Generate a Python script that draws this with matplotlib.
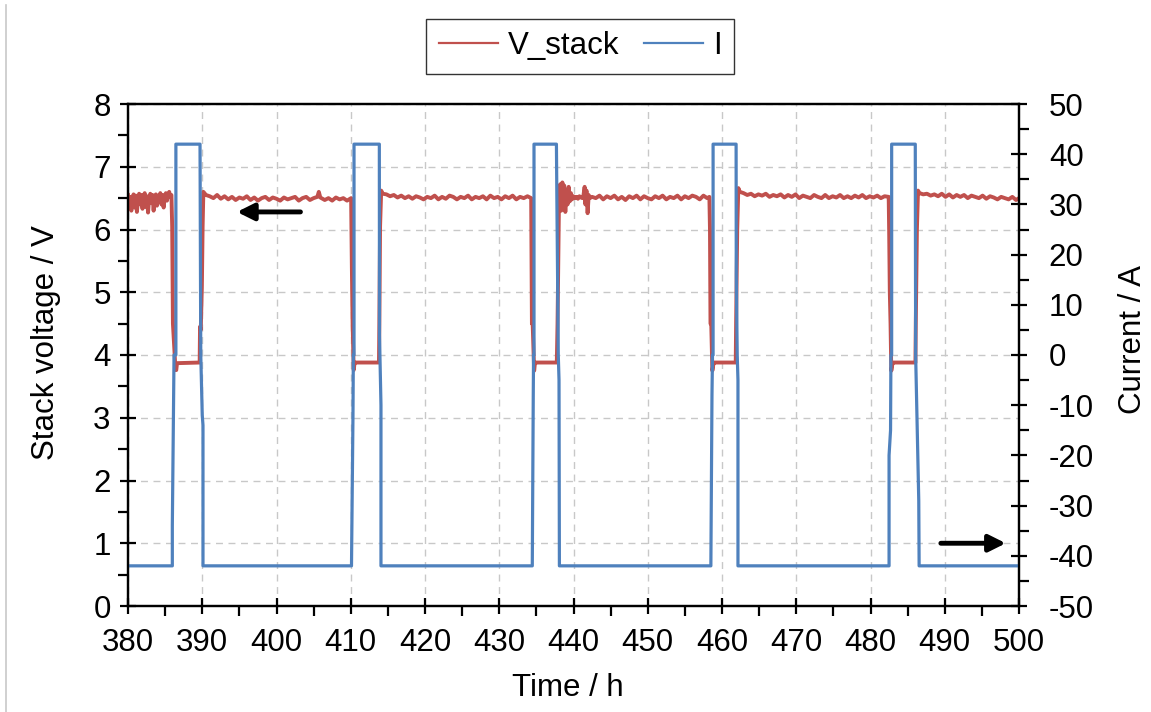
import matplotlib.pyplot as plt
from matplotlib.lines import Line2D
from matplotlib.ticker import MultipleLocator

plt.rcParams['font.family'] = ['Liberation Sans', 'DejaVu Sans']
plt.rcParams['axes.unicode_minus'] = False

# 电压数据
t_v = [
    # 380-386 噪声段
    380.0, 380.15, 380.3, 380.45, 380.6, 380.75, 380.9, 381.05, 381.2, 381.35,
    381.5, 381.65, 381.8, 381.95, 382.1, 382.25, 382.4, 382.55, 382.7, 382.85,
    383.0, 383.15, 383.3, 383.45, 383.6, 383.75, 383.9, 384.05, 384.2, 384.35,
    384.5, 384.65, 384.8, 384.95, 385.1, 385.25, 385.4, 385.55, 385.7, 385.85,
    # 脉冲1
    385.95, 386.05, 386.4, 386.5, 386.6, 389.65, 389.7, 389.8, 389.95, 390.05, 390.15,
    # 平台 390-410
    390.5, 391.0, 391.5, 392.0, 392.5, 393.0, 393.5, 394.0, 394.5, 395.0,
    395.5, 396.0, 396.5, 397.0, 397.5, 398.0, 398.5, 399.0, 399.5, 400.0,
    400.5, 401.0, 401.5, 402.0, 402.5, 403.0, 403.5, 404.0, 404.5, 405.0,
    405.5, 405.7, 405.9, 406.5, 407.0, 407.5, 408.0, 408.5, 409.0, 409.5, 410.05,
    # 脉冲2
    410.15, 410.25, 410.4, 410.5, 410.6, 413.8, 413.85, 413.95, 414.1, 414.3,
    # 平台 414-434
    414.8, 415.3, 415.8, 416.3, 416.8, 417.3, 417.8, 418.3, 418.8, 419.3,
    419.8, 420.3, 420.8, 421.3, 421.8, 422.3, 422.8, 423.3, 423.8, 424.3,
    424.8, 425.3, 425.8, 426.3, 426.8, 427.3, 427.8, 428.3, 428.8, 429.3,
    429.8, 430.3, 430.8, 431.3, 431.8, 432.3, 432.8, 433.3, 433.8, 434.3,
    # 脉冲3
    434.4, 434.5, 434.7, 434.8, 434.95, 437.75, 437.85, 438.05,
    # 438-442 噪声段
    438.2, 438.35, 438.5, 438.6, 438.75, 438.9, 439.05, 439.2, 439.35, 439.5,
    439.65, 439.8, 440.0, 440.2, 440.4, 440.6, 440.8, 441.0, 441.2, 441.35,
    441.5, 441.6, 441.75, 441.9, 442.05, 442.2, 442.5,
    # 平台 442-458
    443.0, 443.5, 444.0, 444.5, 445.0, 445.5, 446.0, 446.5, 447.0, 447.5,
    448.0, 448.5, 449.0, 449.5, 450.0, 450.5, 451.0, 451.5, 452.0, 452.5,
    453.0, 453.5, 454.0, 454.5, 455.0, 455.5, 456.0, 456.5, 457.0, 457.5,
    458.0, 458.3,
    # 脉冲4
    458.38, 458.45, 458.55, 458.7, 458.85, 459.0, 461.85, 461.9, 462.05, 462.2, 462.4,
    # 平台 462-482
    462.9, 463.4, 463.9, 464.4, 464.9, 465.4, 465.9, 466.4, 466.9, 467.4,
    467.9, 468.4, 468.9, 469.4, 469.9, 470.4, 470.9, 471.4, 471.9, 472.4,
    472.9, 473.4, 473.9, 474.4, 474.9, 475.4, 475.9, 476.4, 476.9, 477.4,
    477.9, 478.4, 478.9, 479.4, 479.9, 480.4, 480.9, 481.4, 481.9, 482.45,
    # 脉冲5
    482.52, 482.6, 482.7, 482.8, 482.95, 483.1, 486.05, 486.1, 486.25, 486.4, 486.6,
    # 平台 486-500
    487.1, 487.6, 488.1, 488.6, 489.1, 489.6, 490.1, 490.6, 491.1, 491.6,
    492.1, 492.6, 493.1, 493.6, 494.1, 494.6, 495.1, 495.6, 496.1, 496.6,
    497.1, 497.6, 498.1, 498.6, 499.1, 499.6, 500.0,
]
v_stack = [
    6.55, 6.38, 6.52, 6.30, 6.50, 6.56, 6.35, 6.54, 6.28, 6.48,
    6.57, 6.40, 6.55, 6.33, 6.52, 6.58, 6.36, 6.53, 6.27, 6.50,
    6.57, 6.42, 6.55, 6.30, 6.52, 6.56, 6.38, 6.54, 6.45, 6.58,
    6.40, 6.55, 6.35, 6.52, 6.58, 6.46, 6.56, 6.60, 6.52, 6.55,
    6.05, 4.50, 3.76, 3.76, 3.87, 3.88, 4.45, 4.40, 5.10, 6.05, 6.60,
    6.55, 6.53, 6.50, 6.55, 6.49, 6.53, 6.48, 6.52, 6.47, 6.51,
    6.49, 6.53, 6.47, 6.51, 6.46, 6.50, 6.52, 6.47, 6.51, 6.49,
    6.46, 6.51, 6.48, 6.50, 6.52, 6.46, 6.50, 6.52, 6.47, 6.50,
    6.52, 6.60, 6.51, 6.47, 6.50, 6.46, 6.51, 6.48, 6.50, 6.46, 6.50,
    5.40, 4.50, 3.76, 3.86, 3.88, 3.88, 4.48, 6.05, 6.62, 6.57,
    6.56, 6.53, 6.55, 6.51, 6.54, 6.50, 6.53, 6.49, 6.53, 6.51,
    6.48, 6.52, 6.50, 6.54, 6.48, 6.52, 6.49, 6.54, 6.52, 6.48,
    6.52, 6.50, 6.54, 6.48, 6.52, 6.50, 6.53, 6.48, 6.54, 6.50,
    6.52, 6.48, 6.53, 6.50, 6.54, 6.48, 6.52, 6.50, 6.53, 6.50,
    4.50, 4.50, 3.75, 3.86, 3.88, 3.88, 4.50, 6.50,
    6.72, 6.30, 6.75, 6.35, 6.70, 6.28, 6.62, 6.40, 6.68, 6.45,
    6.58, 6.48, 6.53, 6.50, 6.52, 6.49, 6.53, 6.51, 6.50, 6.55,
    6.68, 6.40, 6.62, 6.26, 6.55, 6.50, 6.52,
    6.50, 6.54, 6.48, 6.53, 6.50, 6.54, 6.48, 6.52, 6.47, 6.53,
    6.50, 6.54, 6.48, 6.53, 6.50, 6.48, 6.53, 6.50, 6.54, 6.48,
    6.52, 6.50, 6.54, 6.48, 6.53, 6.50, 6.54, 6.52, 6.48, 6.54,
    6.50, 6.52,
    6.00, 4.50, 4.50, 3.75, 3.86, 3.88, 3.88, 4.50, 6.00, 6.66, 6.60,
    6.58, 6.55, 6.57, 6.53, 6.56, 6.54, 6.57, 6.52, 6.55, 6.53,
    6.56, 6.51, 6.55, 6.52, 6.56, 6.50, 6.54, 6.52, 6.50, 6.55,
    6.52, 6.50, 6.55, 6.50, 6.53, 6.51, 6.55, 6.50, 6.53, 6.50,
    6.54, 6.51, 6.55, 6.50, 6.53, 6.51, 6.54, 6.50, 6.53, 6.52,
    5.90, 5.00, 4.50, 3.75, 3.86, 3.88, 3.88, 4.50, 6.00, 6.62, 6.58,
    6.56, 6.57, 6.54, 6.56, 6.53, 6.57, 6.52, 6.56, 6.51, 6.55,
    6.52, 6.55, 6.50, 6.54, 6.52, 6.50, 6.54, 6.49, 6.53, 6.51,
    6.48, 6.52, 6.50, 6.48, 6.52, 6.47, 6.50,
]

# 电流数据
t_i = [
    380.0, 385.97, 385.97, 386.2, 386.45, 386.45, 389.7, 389.8, 390.0, 390.1, 390.1,
    410.1, 410.3, 410.35, 410.44, 410.44, 413.85, 413.87, 414.0, 414.07, 414.07,
    434.45, 434.58, 434.62, 434.68, 434.68, 437.7, 437.75, 437.95, 438.05, 438.1,
    458.5, 458.65, 458.72, 458.8, 458.8, 461.9, 461.92, 462.05, 462.15, 462.15,
    482.5, 482.5, 482.7, 482.75, 482.85, 482.85, 486.03, 486.08, 486.5, 486.55,
    500.0,
]
current = [
    -42, -42, -34, 0, 0, 42, 42, 0, -12, -14, -42,
    -42, -12, 0, 0, 42, 42, 4, -5, -10, -42,
    -42, -8, 0, 0, 42, 42, 33, 0, -5, -42,
    -42, -8, 0, 0, 42, 42, 16, 0, -5, -42,
    -42, -20, -15, 0, 0, 42, 42, 0, -29, -42,
    -42,
]

red = '#C0504D'
blue = '#4F81BD'

fig = plt.figure(figsize=(11.51, 7.12), dpi=100)
ax = fig.add_axes([128 / 1151, 1 - 606 / 712, 891 / 1151, 502 / 712])
ax2 = ax.twinx()

l1, = ax.plot(t_v, v_stack, color=red, linewidth=2.8, label='V_stack')
l2, = ax2.plot(t_i, current, color=blue, linewidth=2.3, label='I')

ax.set_xlim(380, 500)
ax.set_ylim(0, 8)
ax2.set_ylim(-50, 50)
ax.xaxis.set_major_locator(MultipleLocator(10))
ax.xaxis.set_minor_locator(MultipleLocator(5))
ax.yaxis.set_major_locator(MultipleLocator(1))
ax.yaxis.set_minor_locator(MultipleLocator(0.5))
ax2.yaxis.set_major_locator(MultipleLocator(10))
ax2.yaxis.set_minor_locator(MultipleLocator(5))

ax.grid(True, which='major', color='#c8c8c8', linestyle=(0, (5, 4)), linewidth=1.0)
ax.set_axisbelow(True)

for a in (ax, ax2):
    for s in a.spines.values():
        s.set_linewidth(1.6)
        s.set_color('black')
    a.tick_params(which='major', direction='inout', length=12, width=1.6, labelsize=22.5)
    a.tick_params(which='minor', direction='out', length=7, width=1.6)

ax.tick_params(axis='x', which='major', pad=10)
ax.tick_params(axis='y', which='major', pad=6.5)
ax2.tick_params(axis='y', which='major', pad=15.5)

ax.set_xlabel('Time / h', fontsize=22.5)
ax.set_ylabel('Stack voltage / V', fontsize=22.5)
ax2.set_ylabel('Current / A', fontsize=22.5)
ax.xaxis.set_label_coords(0.494, -0.163)
ax.xaxis.label.set_va('center')
ax.yaxis.set_label_coords(-0.0915, 0.524)
ax.yaxis.label.set_va('center')
ax2.yaxis.set_label_coords(1.128, 0.53)
ax2.yaxis.label.set_va('center')

# 箭头
ax.annotate('', xy=(394.3, 6.28), xytext=(403.6, 6.28),
            arrowprops=dict(arrowstyle='-|>', color='black', lw=3.5, mutation_scale=25))
ax2.annotate('', xy=(498.6, -37.5), xytext=(489.1, -37.5),
             arrowprops=dict(arrowstyle='-|>', color='black', lw=3.5, mutation_scale=25))

leg = fig.legend(handles=[l1, l2], loc='center', bbox_to_anchor=(580 / 1151, 1 - 46 / 712),
                 ncol=2, fontsize=22.5, frameon=True, fancybox=False, handlelength=1.9,
                 handletextpad=0.3, columnspacing=0.8, borderpad=0.4)
leg.get_frame().set_edgecolor('black')
leg.get_frame().set_linewidth(1.0)
for h in leg.get_lines():
    h.set_linewidth(1.6)

# 左侧灰线
fig.add_artist(Line2D([6 / 1151, 6 / 1151], [0, 1 - 5 / 712], color='#c8c8c8', linewidth=1.2))

fig.savefig('out.png', dpi=100)
